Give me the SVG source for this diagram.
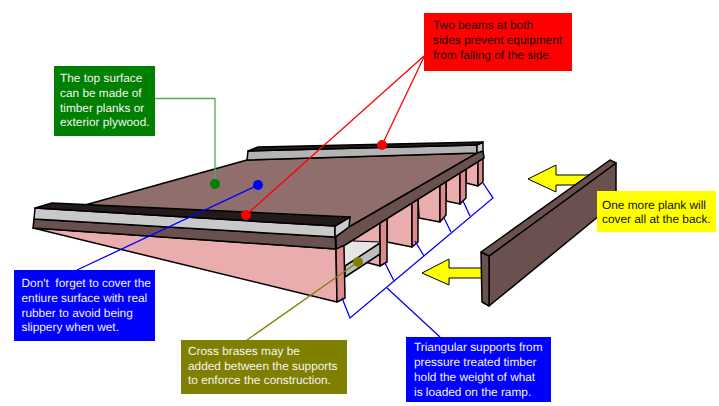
<svg xmlns="http://www.w3.org/2000/svg" width="719" height="406" viewBox="0 0 719 406">
<style>
text{font-family:"Liberation Sans",Arial,sans-serif;font-size:11.85px;white-space:pre;text-rendering:geometricPrecision}
.w{fill:#f4f4f4}.k{fill:#111}
.s{stroke:#000;stroke-width:1.5;stroke-linejoin:round}
.top{fill:#8f6e6c}.plank{fill:#6a5150}.dark{fill:#231a1a}.grey{fill:#c9c9c9}.pink{fill:#e9adad}.leg{fill:#dd8a8a}
.ln{fill:none;stroke-width:1.3}
</style>
<rect width="719" height="406" fill="#fff"/>
<g id="ramp">
<path class="s pink" d="M353 240L380 222V266L365 262Z"/>
<path class="s pink" d="M387 217L412 202V247L387 242Z"/>
<path class="s pink" d="M418 198L440 183V222L419 218Z"/>
<path class="s pink" d="M446 180L460 171V204L446 201Z"/>
<path class="s pink" d="M466 167L478 158V186L466 183Z"/>
<path class="s leg" d="M380 223L387 217V262L380 266Z"/>
<path class="s leg" d="M412 202L418 198V242L412 247Z"/>
<path class="s leg" d="M440 183L446 180V215L440 222Z"/>
<path class="s leg" d="M460 171L466 167V198L460 204Z"/>
<path class="s leg" d="M478 158L483 156V182L478 186Z"/>
<path fill="#e6e6e6" d="M345 241L380 242L345 266Z"/>
<path d="M380 242L353 241" fill="none" stroke="#000"/>
<path class="s" fill="#bdbdbd" d="M345 266L380 243V254L345 277Z"/>
<path class="s pink" d="M33 228L336 249L337 302Z"/>
<path class="s leg" d="M336 248L344 245L345 298L337 302Z"/>
<path class="s top" d="M85 205L247 160L478 153L349 227Z"/>
<path class="s plank" d="M336 237L349 227L477 153L483 151L484 158L345 245L336 249Z"/>
<path class="s" fill="#b4b4b4" d="M248 151L477 145V153L247 160Z"/>
<path class="s" fill="#c9c9c9" d="M477 145L483 142V151L477 153Z"/>
<path class="s dark" d="M248 151L258 147L483 142L477 145Z"/>
<path class="s plank" d="M34 219L335 237L336 249L33 228Z"/>
<path class="s grey" d="M35 208L335 226V237L34 219Z"/>
<path class="s grey" d="M335 226L350 217L349 227L335 237Z"/>
<path class="s dark" d="M35 208L52 203L350 217L335 226Z"/>
</g>
<g id="plank">
<path fill="#ff0" stroke="#000" d="M528 179L556 165V175H592V185H556V192Z"/>
<path fill="#ff0" stroke="#000" d="M422 273L449 259V268H482V278H449V285Z"/>
<path class="s plank" d="M489 256L616 163V202L489 306Z"/>
<path class="s plank" d="M481 252L489 256V306L482 302Z"/>
<path class="s plank" d="M481 252L610 160L616 163L489 256Z"/>
</g>
<g id="connectors">
<path class="ln" stroke="#4cae4c" stroke-width="1.5" d="M155 98.500H215V184"/>
<path class="ln" stroke="#f00" d="M424 56L246 215M424 57L382 145"/>
<path class="ln" stroke="#00f" d="M258 185L77 270"/>
<path class="ln" stroke="#808000" d="M358 262L247 340"/>
<path class="ln" stroke="#00f" d="M342 298L350 318L493 198L483 183M385 263L394 281M415 241L424 256M444 218L451 232M463 201L470 216M387 288L440 337"/>
<circle cx="215" cy="184" r="5" fill="#008000"/>
<circle cx="258" cy="185" r="5" fill="#00f"/>
<circle cx="246" cy="215" r="5" fill="#f00"/>
<circle cx="382" cy="145" r="5" fill="#f00"/>
<circle cx="358" cy="262" r="5" fill="#808000"/>
</g>
<g id="note-top"><rect x="54" y="66" width="101" height="70" fill="#008000"/>
<text class="w" x="60" y="82">The top surface</text><text class="w" x="60" y="97">can be made of</text><text class="w" x="60" y="112">timber planks or</text><text class="w" x="60" y="126">exterior plywood.</text></g>
<g id="note-beams"><rect x="424" y="13" width="148" height="58" fill="#f00"/>
<text class="k" x="433" y="29">Two beams at both</text><text class="k" x="433" y="44">sides prevent equipment</text><text class="k" x="433" y="59">from falling of the side.</text></g>
<g id="note-rubber"><rect x="14" y="270" width="141" height="71" fill="#00f"/>
<text class="w" x="21.500" y="287">Don't  forget to cover the</text><text class="w" x="21.500" y="302">entiure surface with real</text><text class="w" x="21.500" y="317">rubber to avoid being</text><text class="w" x="21.500" y="331">slippery when wet.</text></g>
<g id="note-brace"><rect x="181" y="340" width="166" height="54" fill="#808000"/>
<text class="w" x="188" y="355">Cross brases may be</text><text class="w" x="188" y="370">added between the supports</text><text class="w" x="188" y="384">to enforce the construction.</text></g>
<g id="note-supports"><rect x="406" y="337" width="145" height="65" fill="#00f"/>
<text class="w" x="414" y="351">Triangular supports from</text><text class="w" x="414" y="366">pressure treated timber</text><text class="w" x="414" y="381">hold the weight of what</text><text class="w" x="414" y="396">is loaded on the ramp.</text></g>
<g id="note-cover"><rect x="597" y="191" width="119" height="41" fill="#ff0"/>
<text class="k" x="602" y="209">One more plank will</text><text class="k" x="602" y="223">cover all at the back.</text></g>
</svg>
